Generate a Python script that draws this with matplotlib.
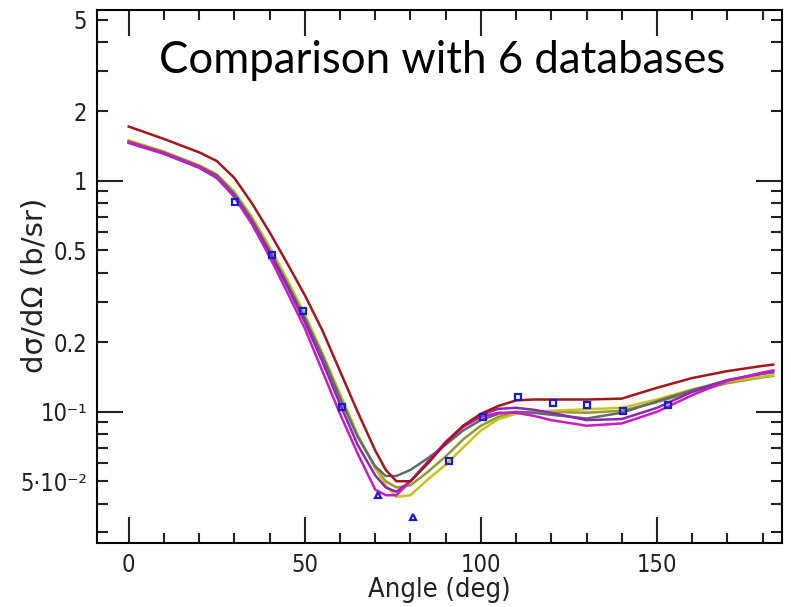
import matplotlib
matplotlib.use("Agg")
import matplotlib.pyplot as plt
from matplotlib.ticker import FixedLocator, FixedFormatter

# angles (deg) and cross sections (b/sr)
angle = [0, 10, 20, 25, 30, 35, 40, 45, 50, 55, 60, 65, 70, 73, 76, 80, 85, 90,
         95, 100, 105, 110, 115, 120, 130, 140, 150, 160, 170, 180, 183]

db_red = [1.72, 1.52, 1.33, 1.22, 1.03, 0.80, 0.60, 0.44, 0.32, 0.225, 0.150, 0.100, 0.068,
          0.056, 0.050, 0.050, 0.060, 0.073, 0.087, 0.098, 0.106, 0.112, 0.113, 0.113, 0.113,
          0.114, 0.127, 0.140, 0.150, 0.158, 0.160]
db_gray = [1.48, 1.33, 1.16, 1.06, 0.88, 0.68, 0.50, 0.36, 0.255, 0.175, 0.115, 0.078, 0.058,
           0.0527, 0.0527, 0.056, 0.063, 0.072, 0.083, 0.092, 0.098, 0.100, 0.099, 0.097, 0.0935,
           0.099, 0.111, 0.124, 0.137, 0.146, 0.148]
db_yellow = [1.50, 1.34, 1.17, 1.07, 0.90, 0.70, 0.52, 0.375, 0.265, 0.18, 0.12, 0.080, 0.057,
             0.048, 0.0428, 0.0435, 0.051, 0.059, 0.070, 0.083, 0.093, 0.098, 0.100, 0.101,
             0.1025, 0.104, 0.113, 0.125, 0.135, 0.142, 0.144]
db_olive = [1.49, 1.33, 1.16, 1.06, 0.89, 0.69, 0.51, 0.37, 0.26, 0.178, 0.118, 0.079, 0.057,
            0.050, 0.047, 0.048, 0.055, 0.064, 0.076, 0.087, 0.095, 0.099, 0.100, 0.100, 0.099,
            0.101, 0.110, 0.122, 0.133, 0.141, 0.143]
db_magenta = [1.47, 1.32, 1.15, 1.04, 0.85, 0.65, 0.47, 0.33, 0.23, 0.150, 0.098, 0.066, 0.046,
              0.0435, 0.0435, 0.050, 0.061, 0.074, 0.086, 0.095, 0.099, 0.099, 0.096, 0.092,
              0.087, 0.089, 0.100, 0.118, 0.136, 0.148, 0.151]
db_purple = [1.46, 1.31, 1.14, 1.03, 0.86, 0.66, 0.49, 0.35, 0.245, 0.165, 0.108, 0.072, 0.053,
             0.047, 0.045, 0.050, 0.060, 0.074, 0.087, 0.097, 0.103, 0.104, 0.102, 0.099, 0.092,
             0.093, 0.104, 0.122, 0.137, 0.147, 0.150]

# measured points (blue markers)
exp_angle = [30.1, 40.6, 49.4, 60.5, 91.0, 100.5, 110.5, 120.5, 130.1, 140.3, 153.0]
exp_xs = [0.81, 0.48, 0.272, 0.105, 0.061, 0.095, 0.1155, 0.109, 0.107, 0.1007, 0.1066]
tri_angle = [70.7, 80.7]
tri_xs = [0.0435, 0.035]

ytick_major = [0.1, 1]
ytick_major_labels = ["10\u207b\u00b9", "1"]
ytick_minor = [0.03, 0.04, 0.05, 0.06, 0.07, 0.08, 0.09, 0.2, 0.3, 0.4, 0.5, 0.6, 0.7,
               0.8, 0.9, 2, 3, 4, 5]
ytick_minor_labels = ["", "", "5\u00b710\u207b\u00b2", "", "", "", "", "0.2", "", "", "0.5",
                      "", "", "", "", "2", "", "", "5"]
xtick_major = [0, 50, 100, 150]
xtick_minor = [10, 20, 30, 40, 60, 70, 80, 90, 110, 120, 130, 140, 160, 170, 180]

fig = plt.figure(figsize=(7.91, 6.07), dpi=100)
ax = fig.add_axes([0.1226, 0.1054, 0.8660, 0.8781])

curves = [
    (db_olive, "#8f9a30"),
    (db_yellow, "#c9c21e"),
    (db_gray, "#5d6b70"),
    (db_purple, "#8a28b0"),
    (db_magenta, "#c81cc4"),
    (db_red, "#a3161a"),
]
for ys, c in curves:
    ax.plot(angle, ys, color=c, lw=1.8)

ax.plot(exp_angle, exp_xs, ls="none", marker="s", ms=5, mfc="none", mec="#1a1ad0", mew=1.6)
ax.plot(tri_angle, tri_xs, ls="none", marker="^", ms=5, mfc="none", mec="#1a1ad0", mew=1.6)

ax.set_yscale("log")
ax.set_xlim(-9, 185.5)
ax.set_ylim(0.027, 5.5)

ax.yaxis.set_major_locator(FixedLocator(ytick_major))
ax.yaxis.set_major_formatter(FixedFormatter(ytick_major_labels))
ax.yaxis.set_minor_locator(FixedLocator(ytick_minor))
ax.yaxis.set_minor_formatter(FixedFormatter(ytick_minor_labels))
ax.xaxis.set_major_locator(FixedLocator(xtick_major))
ax.xaxis.set_minor_locator(FixedLocator(xtick_minor))

for s in ax.spines.values():
    s.set_linewidth(1.5)
ax.tick_params(which="both", direction="in", top=True, right=True, width=1.5,
               colors="#222222", labelsize=17, pad=7)
ax.tick_params(which="major", length=19)
ax.tick_params(axis="x", which="minor", length=7)
ax.tick_params(axis="y", which="minor", length=8)
for lab in ax.get_xticklabels() + ax.get_yticklabels() + ax.get_yticklabels(minor=True):
    lab.set_family("DejaVu Sans")
    lab.set_stretch("condensed")

ax.set_xlabel("Angle (deg)", fontsize=19.5, family="DejaVu Sans", stretch="condensed",
              color="#222222", labelpad=0)
fig.text(0.044, 0.53, "d\u03c3/d\u03a9 (b/sr)", rotation=90, fontsize=21,
         family="DejaVu Sans", color="#222222", ha="center", va="center")

ax.text(0.504, 0.905, "Comparison with 6 databases", transform=ax.transAxes,
        ha="center", va="center", fontsize=31.5, family="Lato")

fig.savefig("out.png", dpi=100)
